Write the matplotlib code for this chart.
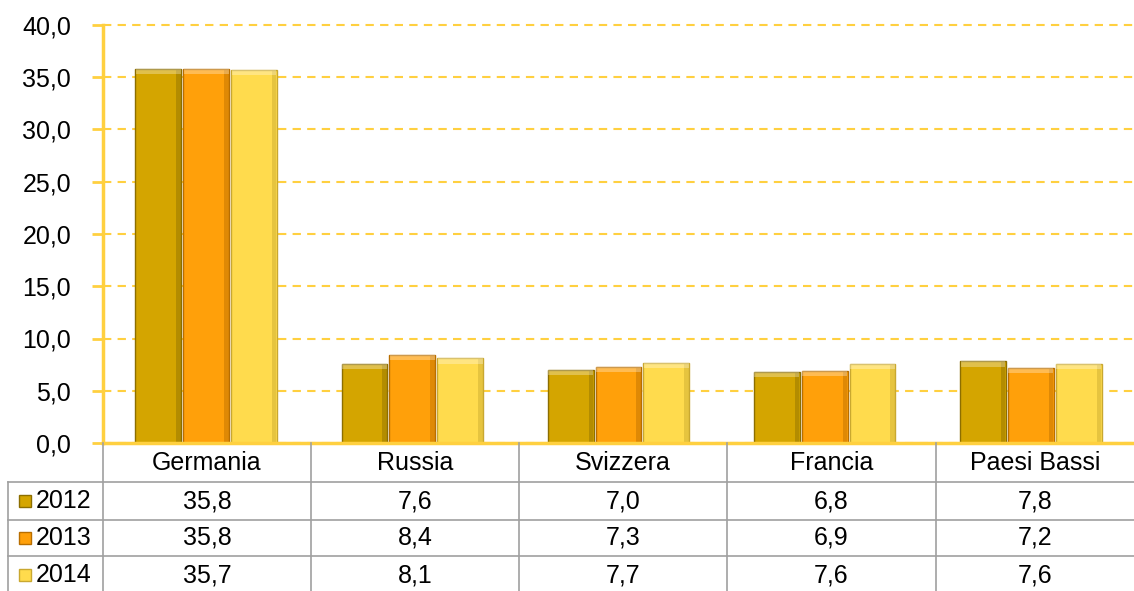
import matplotlib.pyplot as plt
import numpy as np

plt.rcParams['font.family'] = ['Liberation Sans', 'DejaVu Sans']

countries = ['Germania', 'Russia', 'Svizzera', 'Francia', 'Paesi Bassi']
years = ['2012', '2013', '2014']
v2012 = [35.8, 7.6, 7.0, 6.8, 7.8]
v2013 = [35.8, 8.4, 7.3, 6.9, 7.2]
v2014 = [35.7, 8.1, 7.7, 7.6, 7.6]
colors = ['#D4A500', '#FFA00A', '#FFDB4D']
edges = ['#8C6E00', '#B86E00', '#C9A830']

W, H = 1134, 591
fig = plt.figure(figsize=(W / 100, H / 100), dpi=100)
ax = fig.add_axes([103 / W, 1 - 443 / H, 1 - 103 / W, (443 - 25) / H])

x = np.arange(len(countries))
bw = 0.222
for i, vals in enumerate([v2012, v2013, v2014]):
    xs = x + (i - 1) * (bw + 0.01)
    ax.bar(xs, vals, bw, color=colors[i], edgecolor=edges[i], linewidth=1.0, zorder=3)
    # simple bevel look: darker right side, lighter top
    ax.bar(xs + bw * 0.44, vals, bw * 0.1, color=edges[i], alpha=0.45, linewidth=0, zorder=4)
    ax.bar(xs, [0.5] * len(vals), bw * 0.98, bottom=np.array(vals) - 0.5,
           color='white', alpha=0.3, linewidth=0, zorder=4)

ax.set_xlim(-0.5, 4.5)
ax.set_ylim(0, 40)
ax.set_yticks(np.arange(0, 41, 5))
ax.set_yticklabels([f'{t:.1f}'.replace('.', ',') for t in np.arange(0, 41, 5)],
                   fontsize=18)
ax.set_xticks([])
ax.grid(axis='y', color='#FFD040', linestyle=(0, (4, 3)), linewidth=1.5, zorder=0)
for gl in ax.get_ygridlines():
    gl.set_clip_on(False)
for s in ['top', 'right', 'bottom']:
    ax.spines[s].set_visible(False)
ax.spines['left'].set_color('#FFD040')
ax.spines['left'].set_linewidth(2.5)
ax.tick_params(axis='y', length=8, width=2, color='#FFD040', pad=15)
ax.axhline(0, color='#FFD040', linewidth=2.5, zorder=5, clip_on=False)

# data table below the chart
def fx(px):
    return px / W

def fy(py):
    return 1 - py / H

grey = '#A0A0A0'
col_edges = [103, 311, 519, 727, 936, 1134]
row_lines = [482, 520, 556]
for py in row_lines:
    fig.add_artist(plt.Line2D([fx(8), 1], [fy(py), fy(py)], color=grey, lw=1.2))
for px in col_edges[:-1]:
    fig.add_artist(plt.Line2D([fx(px), fx(px)], [fy(443), 0], color=grey, lw=1.2))
fig.add_artist(plt.Line2D([fx(8), fx(8)], [fy(482), 0], color=grey, lw=1.2))

centers = [(col_edges[i] + col_edges[i + 1]) / 2 for i in range(5)]
for c, name in zip(centers, countries):
    fig.text(fx(c), fy(463), name, ha='center', va='center', fontsize=18)

row_y = [501, 538, 575]
for r, vals in enumerate([v2012, v2013, v2014]):
    fig.add_artist(plt.Rectangle((fx(19), fy(row_y[r] + 6)), 12 / W, 12 / H,
                                 facecolor=colors[r], edgecolor=edges[r], lw=1))
    fig.text(fx(36), fy(row_y[r]), years[r], ha='left', va='center', fontsize=18)
    for c, v in zip(centers, vals):
        fig.text(fx(c), fy(row_y[r]), f'{v:.1f}'.replace('.', ','),
                 ha='center', va='center', fontsize=18)

plt.savefig('out.png', dpi=100)
